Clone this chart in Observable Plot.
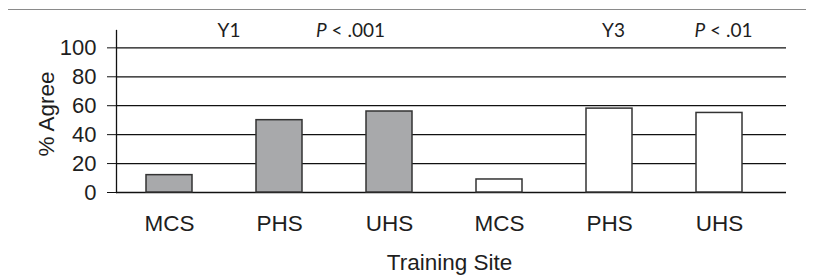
<!DOCTYPE html>
<html>
<head>
<meta charset="utf-8">
<script src="https://cdn.jsdelivr.net/npm/d3@7"></script>
<script src="https://cdn.jsdelivr.net/npm/@observablehq/plot@0.6"></script>
<style>
  html, body { margin: 0; padding: 0; background: #fff; }
  #wrap { position: relative; width: 814px; height: 275px; }
  #toprule { position: absolute; top: 9px; left: 8px; width: 798px; border-top: 1.5px solid #8a8a8a; }
  #wrap svg { display: block; }
</style>
</head>
<body>
<div id="wrap"><div id="toprule"></div></div>
<script>
// ---- data ----
const years = ["Y1", "Y1", "Y1", "Y3", "Y3", "Y3"];
const sites = ["MCS", "PHS", "UHS", "MCS", "PHS", "UHS"];
const agree = [12, 50, 56, 9, 58, 55];
const yTicks = [0, 20, 40, 60, 80, 100];
const yearLabels = ["Y1", "Y3"];
const pLabels = ["P < .001", "P < .01"];
const xTitle = "Training Site";
const yTitle = "% Agree";

const data = sites.map((s, i) => ({ key: `${years[i]} ${s}`, year: years[i], site: s, value: agree[i] }));
const keys = data.map(d => d.key);
const annFont = "Lato, 'Open Sans', sans-serif";

const chart = Plot.plot({
  width: 814,
  height: 275,
  marginLeft: 116,
  marginRight: 28,
  marginTop: 30,
  marginBottom: 83,
  style: { fontFamily: "'Liberation Sans', Arial, sans-serif", background: "white", color: "#1e1e1e" },
  x: { domain: keys, range: [116, 771.5], paddingInner: 0.584, paddingOuter: 0.258, label: null },
  y: { domain: [0, 112], label: null },
  marks: [
    Plot.gridY({ ticks: yTicks, stroke: "#111", strokeOpacity: 1, strokeWidth: 1.3 }),
    Plot.barY(data, {
      x: "key", y: "value",
      fill: d => d.year === "Y1" ? "#a8a9ab" : "#ffffff",
      stroke: "#333", strokeWidth: 1.5
    }),
    Plot.frame({ anchor: "left", stroke: "#111", strokeWidth: 1.3 }),
    Plot.axisY({ ticks: yTicks, tickSize: 9, tickPadding: 11, fontSize: 22, stroke: "#111", label: null }),
    Plot.axisX({ tickSize: 0, tickPadding: 23, fontSize: 22.5, tickFormat: k => k.split(" ")[1], label: null }),
    Plot.text([xTitle], { frameAnchor: "bottom", lineAnchor: "middle", textAnchor: "middle", dy: 70, dx: -2, fontSize: 22.5, fill: "#1e1e1e" }),
    Plot.text([yTitle], { frameAnchor: "left", lineAnchor: "middle", textAnchor: "middle", rotate: -90, dx: -70, dy: 2.5, fontSize: 22.5, fill: "#1e1e1e" }),
    // annotations
    Plot.text([yearLabels[0]], { x: () => keys[1], frameAnchor: "top", lineAnchor: "middle", textAnchor: "middle", dx: -50.5, dy: 0.7, fontSize: 19, fontFamily: annFont, fill: "#1e1e1e" }),
    Plot.text([yearLabels[1]], { x: () => keys[4], frameAnchor: "top", lineAnchor: "middle", textAnchor: "middle", dx: 4, dy: 0.7, fontSize: 19, fontFamily: annFont, fill: "#1e1e1e" }),
    Plot.text([pLabels[0]], { x: () => keys[1], frameAnchor: "top", lineAnchor: "middle", textAnchor: "start", dx: 36.5, dy: 0.7, fontSize: 19, fontFamily: annFont, fill: "#1e1e1e" }),
    Plot.text([pLabels[1]], { x: () => keys[5], frameAnchor: "top", lineAnchor: "middle", textAnchor: "start", dx: -25, dy: 0.7, fontSize: 19, fontFamily: annFont, fill: "#1e1e1e" })
  ]
});

// italic P in p-value labels
d3.select(chart).selectAll("text").filter(function () { return /^P </.test(this.textContent); })
  .each(function () {
    const t = d3.select(this);
    const rest = this.textContent.slice(1);
    t.text(null);
    t.append("tspan").attr("font-style", "italic").text("P");
    t.append("tspan").text(rest);
  });

document.getElementById("wrap").appendChild(chart);
</script>
</body>
</html>
